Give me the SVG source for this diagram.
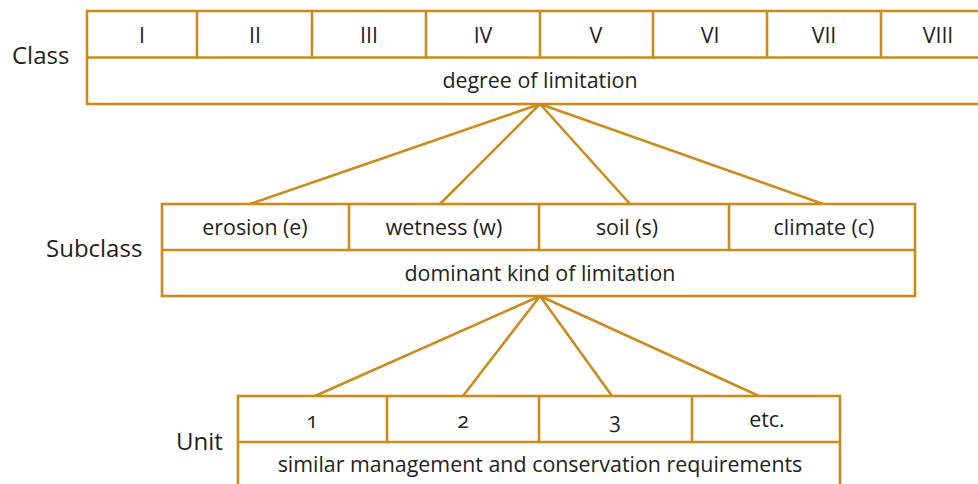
<svg xmlns="http://www.w3.org/2000/svg" width="978" height="484" viewBox="0 0 978 484">
<style>
.b{fill:#fff;stroke:#CD8B1B;stroke-width:2.6}
.l{stroke:#CD8B1B;stroke-width:2.6;fill:none}
text{font-family:"Open Sans","Noto Sans","Liberation Sans",sans-serif;fill:#231f20;text-anchor:middle;font-size:21.4px}
.lab{font-size:24px;text-anchor:start}
.n{font-variant-numeric:oldstyle-nums}
</style>
<rect width="978" height="484" fill="#fff"/>
<g id="connectors">
<path class="l" d="M540 104L250 204M540 104L440 204M540 104L630 204M540 104L823 204"/>
<path class="l" d="M540 296L315 396M540 296L463 396M540 296L612 396M540 296L759 396"/>
</g>
<g id="class">
<text class="lab" x="12" y="64">Class</text>
<rect class="b" x="87" y="11" width="910" height="93"/>
<path class="l" d="M87 57.5H997M197 11V57.5M312 11V57.5M426 11V57.5M540 11V57.5M653 11V57.5M767 11V57.5M881 11V57.5"/>
<text x="142" y="43">I</text>
<text x="255" y="43">II</text>
<text x="369" y="43">III</text>
<text x="483" y="43">IV</text>
<text x="596" y="43">V</text>
<text x="710" y="43">VI</text>
<text x="824" y="43">VII</text>
<text x="938" y="43">VIII</text>
<text x="540" y="88">degree of limitation</text>
</g>
<g id="subclass">
<text class="lab" x="46" y="257">Subclass</text>
<rect class="b" x="162" y="204" width="753" height="92"/>
<path class="l" d="M162 250H915M349 204V250M539 204V250M729 204V250"/>
<text x="255" y="235">erosion (e)</text>
<text x="444" y="235">wetness (w)</text>
<text x="627" y="235">soil (s)</text>
<text x="824" y="235">climate (c)</text>
<text x="540" y="281">dominant kind of limitation</text>
</g>
<g id="unit">
<text class="lab" x="176" y="450">Unit</text>
<rect class="b" x="238" y="396" width="602" height="100"/>
<path class="l" d="M238 442H840M387 396V442M539 396V442M692 396V442"/>
<text class="n" x="312" y="428">1</text>
<text class="n" x="463" y="428">2</text>
<text class="n" x="615" y="428">3</text>
<text x="767" y="427">etc.</text>
<text x="540" y="472">similar management and conservation requirements</text>
</g>
</svg>
